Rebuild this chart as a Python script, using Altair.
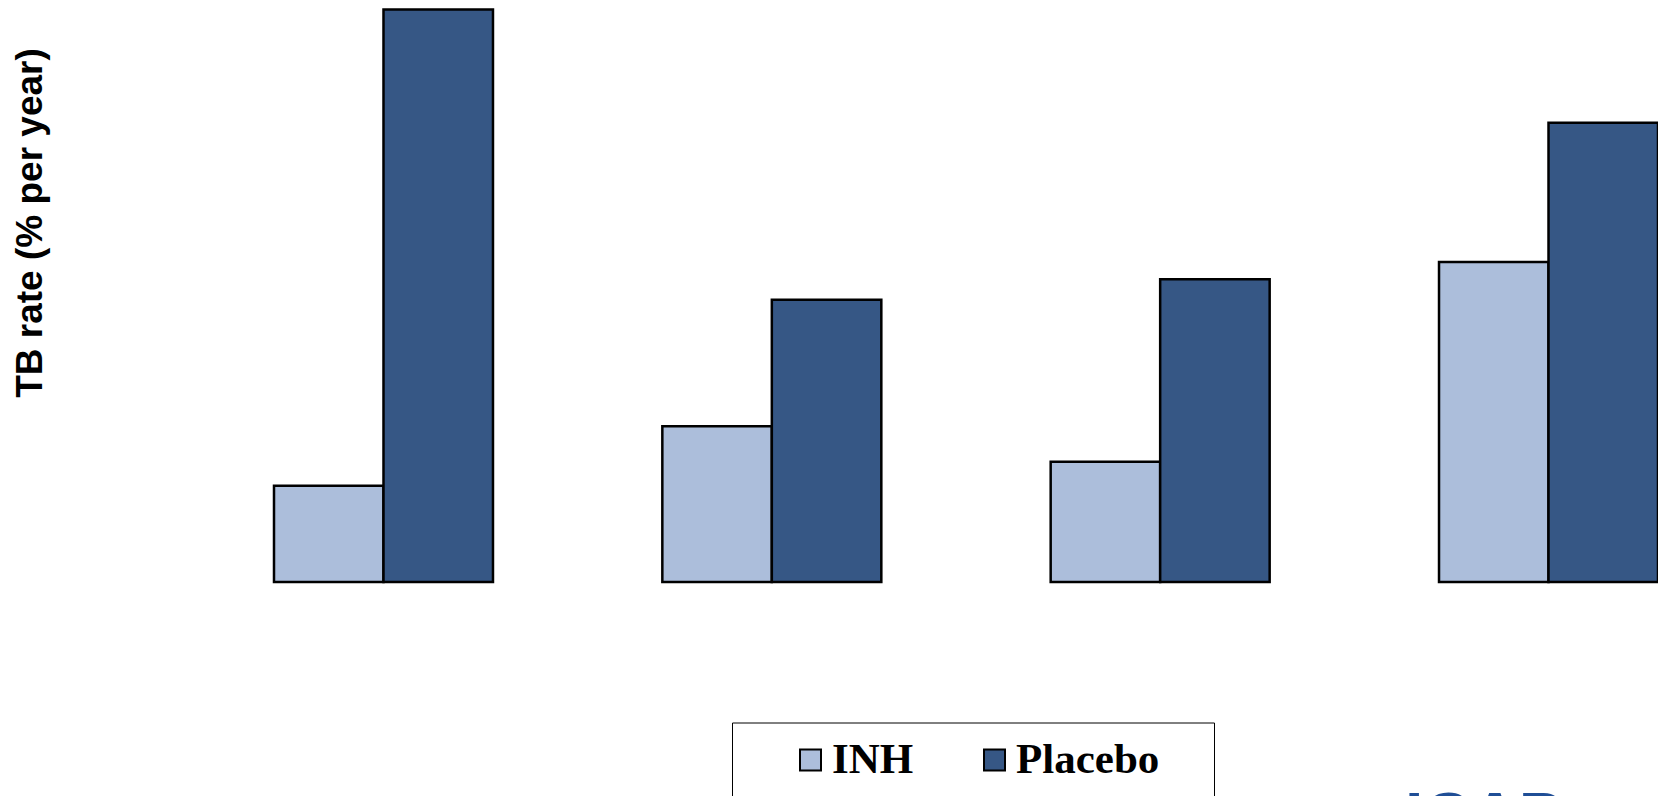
import altair as alt
import pandas as pd

groups = ["Group 1", "Group 2", "Group 3", "Group 4"]
arms = ["INH", "Placebo"]
inh_rate = [1.68, 2.72, 2.10, 5.59]
placebo_rate = [10.0, 4.93, 5.29, 8.02]
arm_colors = ["#ACBEDB", "#365785"]

rows = []
for g, a, b in zip(groups, inh_rate, placebo_rate):
    rows.append({"group": g, "arm": "INH", "rate": a})
    rows.append({"group": g, "arm": "Placebo", "rate": b})
df = pd.DataFrame(rows)

bars = alt.Chart(df).mark_bar(stroke="black", strokeWidth=2.5).encode(
    x=alt.X("group:N", sort=groups, axis=None,
            scale=alt.Scale(paddingInner=0.4361, paddingOuter=0)),
    xOffset=alt.XOffset("arm:N", sort=arms,
                        scale=alt.Scale(paddingInner=0, paddingOuter=0)),
    y=alt.Y("rate:Q",
            scale=alt.Scale(domain=[0, 10], nice=False, zero=True),
            axis=alt.Axis(title="TB rate (% per year)", domain=False, ticks=False,
                          labels=False, grid=False,
                          titleFont="Liberation Sans", titleFontSize=37,
                          titleFontWeight="bold", titleColor="black",
                          titleX=-244, titleY=213, titleAngle=270,
                          titleAlign="center", titleBaseline="middle")),
    color=alt.Color("arm:N",
                    scale=alt.Scale(domain=arms, range=arm_colors),
                    legend=alt.Legend(
                        title="\u00a0", titleOrient="right", titleFontSize=1,
                        titlePadding=45,
                        orient="none", legendX=458, legendY=713,
                        direction="horizontal", symbolType="square",
                        symbolSize=440, symbolStrokeColor="black",
                        symbolStrokeWidth=2, symbolOffset=47,
                        labelOffset=0, labelFont="Liberation Serif",
                        labelFontSize=43, labelFontWeight="bold",
                        labelColor="black", labelLimit=500, columnPadding=12,
                        padding=10, clipHeight=55, strokeColor="black")),
)

logo = alt.Chart(pd.DataFrame({"t": ["ICAP"]})).mark_text(
    font="Liberation Sans", fontSize=66, fontWeight="bold", color="#1F4E96",
    align="left", baseline="top"
).encode(text="t:N", x=alt.value(1131), y=alt.value(777))

chart = alt.layer(bars, logo).properties(
    width=1384, height=572.5,
    autosize=alt.AutoSizeParams(type="none"),
    padding={"left": 266, "top": 1.5, "right": 0, "bottom": 214},
).configure_view(stroke=None).configure_legend(strokeWidth=1)

chart.save("out.html", embed_options={"renderer": "svg", "actions": False})
